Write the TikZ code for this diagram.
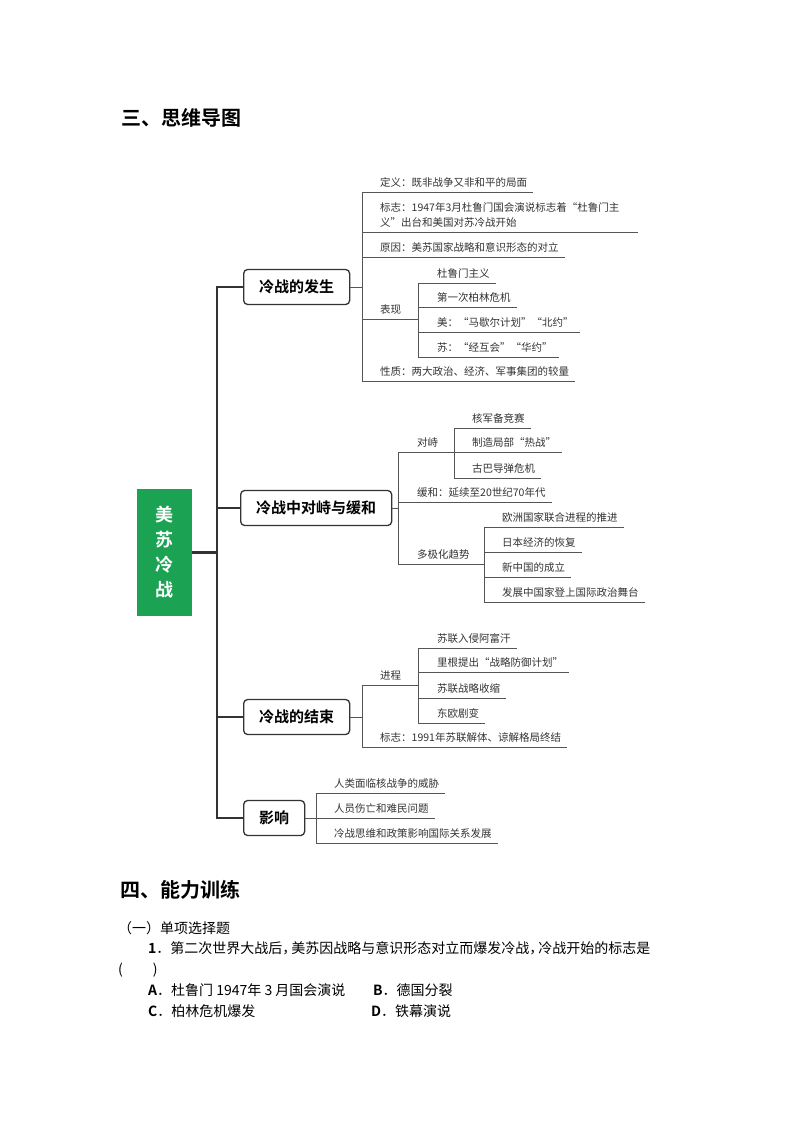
\documentclass[tikz,border=0pt]{standalone}
\usepackage{fontspec}
\setmainfont{Noto Sans CJK SC}[BoldFont={Noto Sans CJK SC Bold}]
\usetikzlibrary{positioning}
\definecolor{Ink}{HTML}{333333}
\definecolor{Twig}{HTML}{555555}
\definecolor{Grass}{HTML}{1BA353}
\newcommand{\halfcomma}{\makebox[9pt][l]{，}}

\tikzset{
  leaf/.style={anchor=south west,inner xsep=6pt,inner ysep=0pt,text height=8pt,text depth=5pt,
    font=\fontsize{10.5}{15}\selectfont,text=Ink},
  topic/.style={draw=Ink,line width=1.3pt,rounded corners=4pt,anchor=west,minimum height=35pt,
    inner xsep=15.5pt,font=\fontsize{15}{18}\selectfont\bfseries},
  twig/.style={Twig,line width=0.9pt},
  trunk/.style={Ink,line width=2.4pt},
  head/.style={anchor=base west,inner sep=0pt,font=\fontsize{20}{24}\selectfont\bfseries},
  body/.style={anchor=base west,inner sep=0pt,font=\fontsize{14}{17}\selectfont},
}

\begin{document}
\begin{tikzpicture}[x=1pt,y=-1pt]
  \useasboundingbox (0,0) rectangle (794,1123);

  \node[head] (h3) at (121,125.6) {三、思维导图};

  \node[fill=Grass,minimum width=55pt,minimum height=127pt,inner sep=0pt,text=white,align=center,
    font=\fontsize{18}{25}\selectfont\bfseries] (root) at (164.5,552.5) {美\\苏\\冷\\战};

  % 冷战的发生
  \node[topic] (b1) at (243,287) {冷战的发生};
  \coordinate (s1) at (362,287);
  \coordinate (t1) at (418,319);
  \foreach \n/\y/\t in {d1/192/定义：既非战争又非和平的局面,d3/257/原因：美苏国家战略和意识形态的对立,
    d4/319/表现,d5/381/性质：两大政治、经济、军事集团的较量}
    \node[leaf] (\n) at (374,\y) {\t};
  \node[leaf] (d2) at (374,232) {\parbox[b]{252pt}{标志：1947年3月杜鲁门国会演说标志着“杜鲁门主\\义”出台和美国对苏冷战开始}};
  \foreach \n/\y/\t in {e1/283/杜鲁门主义,e2/307/第一次柏林危机,e3/332/美：“马歇尔计划”“北约”,e4/357/苏：“经互会”“华约”}
    \node[leaf] (\n) at (431,\y) {\t};
  \draw[twig] (b1.east) -- (s1);
  \draw[twig] (s1 |- d1.south) -- (s1 |- d5.south);
  \foreach \n in {d1,d2,d3,d5}
    \draw[twig] (s1 |- \n.south) -- (\n.south east);
  \draw[twig] (s1 |- d4.south) -- (t1);
  \draw[twig] (t1 |- e1.south) -- (t1 |- e4.south);
  \foreach \n in {e1,e2,e3,e4}
    \draw[twig] (t1 |- \n.south) -- (\n.south east);

  % 冷战中对峙与缓和
  \node[topic] (b2) at (240,508) {冷战中对峙与缓和};
  \coordinate (s2) at (398,508);
  \coordinate (t2) at (454,452);
  \coordinate (t3) at (484,564);
  \foreach \n/\y/\t in {f1/452/对峙,f2/502/缓和：延续至20世纪70年代,f3/564/多极化趋势}
    \node[leaf] (\n) at (411,\y) {\t};
  \foreach \n/\y/\t in {g1/428/核军备竞赛,g2/452/制造局部“热战”,g3/478/古巴导弹危机}
    \node[leaf] (\n) at (466,\y) {\t};
  \foreach \n/\y/\t in {k1/527/欧洲国家联合进程的推进,k2/552/日本经济的恢复,k3/577/新中国的成立,
    k4/602/发展中国家登上国际政治舞台}
    \node[leaf] (\n) at (496,\y) {\t};
  \draw[twig] (b2.east) -- (s2);
  \draw[twig] (s2 |- f1.south) -- (s2 |- f3.south);
  \draw[twig] (s2 |- f1.south) -- (t2);
  \draw[twig] (s2 |- f2.south) -- (f2.south east);
  \draw[twig] (s2 |- f3.south) -- (t3);
  \draw[twig] (t2 |- g1.south) -- (t2 |- g3.south);
  \foreach \n in {g1,g2,g3}
    \draw[twig] (t2 |- \n.south) -- (\n.south east);
  \draw[twig] (t3 |- k1.south) -- (t3 |- k4.south);
  \foreach \n in {k1,k2,k3,k4}
    \draw[twig] (t3 |- \n.south) -- (\n.south east);

  % 冷战的结束
  \node[topic] (b3) at (243,717) {冷战的结束};
  \coordinate (s3) at (362,717);
  \coordinate (t4) at (418,685);
  \foreach \n/\y/\t in {m0/685/进程,m5/747/标志：1991年苏联解体、谅解格局终结}
    \node[leaf] (\n) at (374,\y) {\t};
  \foreach \n/\y/\t in {m1/648/苏联入侵阿富汗,m2/672/里根提出“战略防御计划”,m3/698/苏联战略收缩,m4/723/东欧剧变}
    \node[leaf] (\n) at (431,\y) {\t};
  \draw[twig] (b3.east) -- (s3);
  \draw[twig] (s3 |- m0.south) -- (s3 |- m5.south);
  \draw[twig] (s3 |- m0.south) -- (t4);
  \draw[twig] (s3 |- m5.south) -- (m5.south east);
  \draw[twig] (t4 |- m1.south) -- (t4 |- m4.south);
  \foreach \n in {m1,m2,m3,m4}
    \draw[twig] (t4 |- \n.south) -- (\n.south east);

  % 影响
  \node[topic] (b4) at (243,818) {影响};
  \coordinate (s4) at (316,818);
  \foreach \n/\y/\t in {n1/793/人类面临核战争的威胁,n2/818/人员伤亡和难民问题,n3/843/冷战思维和政策影响国际关系发展}
    \node[leaf] (\n) at (328,\y) {\t};
  \draw[twig] (b4.east) -- (s4);
  \draw[twig] (s4 |- n1.south) -- (s4 |- n3.south);
  \foreach \n in {n1,n2,n3}
    \draw[twig] (s4 |- \n.south) -- (\n.south east);

  % 主干
  \coordinate (tr) at (217,553);
  \draw[trunk] (b1.west) -- (b1.west -| tr) -- (b4.west -| tr) -- (b4.west);
  \draw[trunk] (b2.west) -- (b2.west -| tr);
  \draw[trunk] (b3.west) -- (b3.west -| tr);
  \draw[trunk] (root.east) -- (root.east -| tr);

  \node[head] (h4) at (120,897) {四、能力训练};
  \node[body] (q0) at (118,933) {（一）单项选择题};
  \node[body] (q1) at (148,953) {\textbf{1}．第二次世界大战后\halfcomma 美苏因战略与意识形态对立而爆发冷战\halfcomma 冷战开始的标志是};
  \node[body] (q2) at (118,974) {(\hspace{30pt})};
  \node[body] (qa) at (148,995) {\textbf{A}．杜鲁门 1947年 3 月国会演说};
  \node[body] (qb) at (373,995) {\textbf{B}．德国分裂};
  \node[body] (qc) at (148,1016) {\textbf{C}．柏林危机爆发};
  \node[body] (qd) at (371,1016) {\textbf{D}．铁幕演说};
\end{tikzpicture}
\end{document}
